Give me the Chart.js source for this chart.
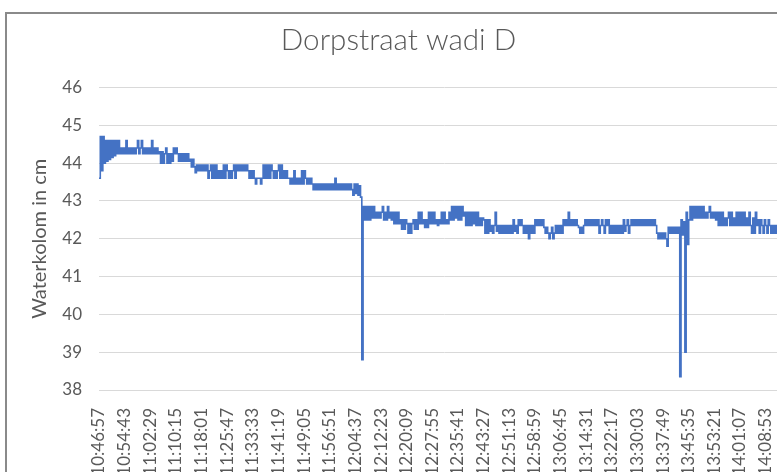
<!DOCTYPE html>
<html>
<head>
<meta charset="utf-8">
<title>Dorpstraat wadi D</title>
<script src="https://cdn.jsdelivr.net/npm/chart.js@4.4.0/dist/chart.umd.min.js"></script>
<style>
  html, body { margin: 0; padding: 0; background: #fff; overflow: hidden; }
  #box { position: absolute; left: 5px; top: 12px; border: 2px solid #8a8a8a; width: 794px; height: 500px; }
  canvas { display: block; }
</style>
</head>
<body>
<div id="box"><canvas id="myChart" width="794" height="500"></canvas></div>
<script>
// x-axis labels, one per 20 readings
var tickLabels = ['10:46:57', '10:54:43', '11:02:29', '11:10:15', '11:18:01', '11:25:47', '11:33:33',
    '11:41:19', '11:49:05', '11:56:51', '12:04:37', '12:12:23', '12:20:09', '12:27:55', '12:35:41',
    '12:43:27', '12:51:13', '12:58:59', '13:06:45', '13:14:31', '13:22:17', '13:30:03', '13:37:49',
    '13:45:35', '13:53:21', '14:01:07', '14:08:53'];
var readingsPerLabel = 20;

// waterkolom (cm), one row per label interval
var levels = [
    43.6, 44.7, 43.8, 44.7, 44.0, 44.6, 44.05, 44.6, 44.1, 44.6, 44.15, 44.6, 44.2, 44.6, 44.25, 44.6, 44.25, 44.4, 44.25, 44.4,
    44.25, 44.6, 44.25, 44.4, 44.25, 44.4, 44.25, 44.4, 44.25, 44.4, 44.6, 44.25, 44.4, 44.6, 44.25, 44.4, 44.25, 44.4, 44.25, 44.4,
    44.25, 44.6, 44.25, 44.4, 44.25, 44.4, 44.25, 44.3, 44.0, 44.3, 44.0, 44.25, 44.4, 44.0, 44.25, 44.0, 44.25, 44.05, 44.4, 44.25,
    44.4, 44.25, 44.05, 44.25, 44.05, 44.25, 44.05, 44.25, 44.05, 44.25, 44.05, 44.1, 43.9, 44.1, 43.9, 43.75, 43.95, 43.8, 43.95, 43.8,
    43.95, 43.8, 43.95, 43.8, 43.95, 43.6, 43.8, 43.95, 43.6, 43.95, 43.6, 43.95, 43.6, 43.8, 43.6, 43.8, 43.6, 43.95, 43.6, 43.95,
    43.8, 43.6, 43.8, 43.6, 43.8, 43.95, 43.6, 43.95, 43.8, 43.95, 43.8, 43.95, 43.8, 43.95, 43.8, 43.95, 43.8, 43.6, 43.8, 43.6,
    43.8, 43.6, 43.45, 43.6, 43.6, 43.6, 43.45, 43.6, 43.95, 43.6, 43.95, 43.6, 43.95, 43.6, 43.95, 43.8, 43.6, 43.8, 43.6, 43.8,
    43.95, 43.6, 43.95, 43.6, 43.8, 43.6, 43.8, 43.6, 43.6, 43.45, 43.6, 43.45, 43.8, 43.45, 43.6, 43.45, 43.6, 43.45, 43.8, 43.45,
    43.8, 43.6, 43.45, 43.6, 43.45, 43.6, 43.45, 43.3, 43.45, 43.3, 43.45, 43.3, 43.45, 43.3, 43.45, 43.3, 43.45, 43.3, 43.45, 43.3,
    43.45, 43.3, 43.45, 43.3, 43.6, 43.3, 43.45, 43.3, 43.45, 43.3, 43.45, 43.3, 43.45, 43.3, 43.45, 43.3, 43.45, 43.3, 43.15, 43.45,
    43.2, 43.45, 43.15, 43.4, 43.1, 38.8, 42.85, 42.5, 42.85, 42.5, 42.85, 42.5, 42.85, 42.55, 42.85, 42.55, 42.7, 42.55, 42.7, 42.55,
    42.7, 42.85, 42.5, 42.7, 42.5, 42.85, 42.55, 42.7, 42.5, 42.7, 42.4, 42.7, 42.4, 42.7, 42.4, 42.5, 42.25, 42.5, 42.25, 42.5,
    42.4, 42.15, 42.4, 42.15, 42.4, 42.5, 42.25, 42.5, 42.25, 42.7, 42.4, 42.7, 42.4, 42.5, 42.3, 42.5, 42.3, 42.7, 42.4, 42.7,
    42.4, 42.7, 42.4, 42.5, 42.35, 42.5, 42.4, 42.7, 42.4, 42.7, 42.4, 42.5, 42.4, 42.7, 42.5, 42.85, 42.5, 42.85, 42.55, 42.85,
    42.5, 42.85, 42.5, 42.85, 42.6, 42.7, 42.35, 42.7, 42.35, 42.7, 42.35, 42.7, 42.4, 42.7, 42.35, 42.7, 42.35, 42.55, 42.35, 42.55,
    42.5, 42.15, 42.5, 42.15, 42.5, 42.2, 42.35, 42.15, 42.35, 42.7, 42.2, 42.35, 42.15, 42.35, 42.15, 42.35, 42.15, 42.35, 42.15, 42.35,
    42.15, 42.35, 42.15, 42.5, 42.2, 42.35, 42.15, 42.5, 42.35, 42.5, 42.35, 42.15, 42.35, 42.15, 42.35, 42.0, 42.35, 42.15, 42.35, 42.15,
    42.5, 42.35, 42.5, 42.35, 42.5, 42.35, 42.5, 42.3, 42.15, 42.3, 42.15, 42.0, 42.15, 42.3, 42.0, 42.15, 42.35, 42.15, 42.35, 42.15,
    42.35, 42.15, 42.5, 42.35, 42.5, 42.35, 42.7, 42.35, 42.5, 42.35, 42.5, 42.35, 42.5, 42.35, 42.3, 42.15, 42.3, 42.15, 42.35, 42.5,
    42.35, 42.5, 42.35, 42.5, 42.35, 42.5, 42.35, 42.5, 42.35, 42.5, 42.15, 42.35, 42.5, 42.35, 42.15, 42.5, 42.35, 42.5, 42.15, 42.35,
    42.15, 42.35, 42.15, 42.35, 42.15, 42.35, 42.15, 42.35, 42.15, 42.5, 42.2, 42.35, 42.5, 42.15, 42.35, 42.5, 42.35, 42.5, 42.35, 42.5,
    42.35, 42.5, 42.35, 42.5, 42.35, 42.5, 42.35, 42.5, 42.35, 42.5, 42.35, 42.5, 42.35, 42.5, 42.35, 42.15, 42.0, 42.15, 42.0, 42.15,
    42.0, 42.15, 42.0, 41.8, 42.3, 42.15, 42.3, 42.15, 42.3, 42.15, 42.3, 42.15, 42.3, 38.35, 42.5, 42.1, 42.45, 39.0, 42.7, 41.85,
    42.5, 42.85, 42.5, 42.85, 42.55, 42.85, 42.55, 42.85, 42.55, 42.85, 42.55, 42.85, 42.55, 42.7, 42.55, 42.7, 42.85, 42.55, 42.7, 42.55,
    42.7, 42.5, 42.7, 42.35, 42.7, 42.35, 42.7, 42.35, 42.55, 42.35, 42.55, 42.7, 42.35, 42.7, 42.35, 42.55, 42.35, 42.7, 42.35, 42.7,
    42.35, 42.7, 42.35, 42.7, 42.35, 42.55, 42.35, 42.7, 42.35, 42.15, 42.55, 42.15, 42.7, 42.35, 42.5, 42.15, 42.5, 42.35, 42.15, 42.5,
    42.35, 42.15, 42.5, 42.35, 42.15, 42.35, 42.15, 42.35, 42.15, 42.35, 42.15, 42.35, 42.15, 42.35, 42.15, 42.35, 42.15, 42.35, 42.15, 42.35
];

var yTicks = [38, 39, 40, 41, 42, 43, 44, 45, 46];

var grey = '#595959';
var font = 'Lato, "Open Sans", sans-serif';

var points = levels.map(function (v, i) { return { x: i, y: v }; });

var ctx = document.getElementById('myChart').getContext('2d');
var chart = new Chart(ctx, {
    type: 'line',
    data: {
        datasets: [{
            label: 'Waterkolom in cm',
            data: points,
            borderColor: '#4472C4',
            borderWidth: 1.6,
            pointRadius: 0,
            stepped: true,
            fill: false
        }]
    },
    options: {
        responsive: false,
        animation: false,
        devicePixelRatio: 1,
        layout: { padding: { left: 0, right: 11, top: 0, bottom: 0 } },
        plugins: {
            legend: { display: false },
            tooltip: { enabled: false },
            title: {
                display: true,
                text: 'Dorpstraat wadi D',
                color: grey,
                font: { family: font, size: 29.6, weight: 300 },
                padding: { top: 9, bottom: 29 }
            }
        },
        scales: {
            x: {
                type: 'linear',
                min: 0,
                max: levels.length - 1,
                grid: { display: false },
                border: { display: true, color: '#d9d9d9' },
                ticks: {
                    stepSize: readingsPerLabel,
                    autoSkip: false,
                    includeBounds: false,
                    minRotation: 90,
                    maxRotation: 90,
                    padding: 10,
                    color: grey,
                    font: { family: font, size: 17 },
                    callback: function (v) { return tickLabels[v / readingsPerLabel]; }
                },
                afterFit: function (scale) { scale.height = 124; }
            },
            y: {
                min: yTicks[0],
                max: yTicks[yTicks.length - 1],
                grid: { color: '#d9d9d9', drawTicks: false },
                border: { display: false },
                ticks: {
                    stepSize: 1,
                    padding: 17,
                    color: grey,
                    font: { family: font, size: 17 }
                },
                title: {
                    display: true,
                    text: 'Waterkolom in cm',
                    color: grey,
                    font: { family: font, size: 20 },
                    padding: { top: 21, bottom: 0 }
                },
                afterFit: function (scale) { scale.width = 92; }
            }
        }
    }
});
</script>
</body>
</html>
